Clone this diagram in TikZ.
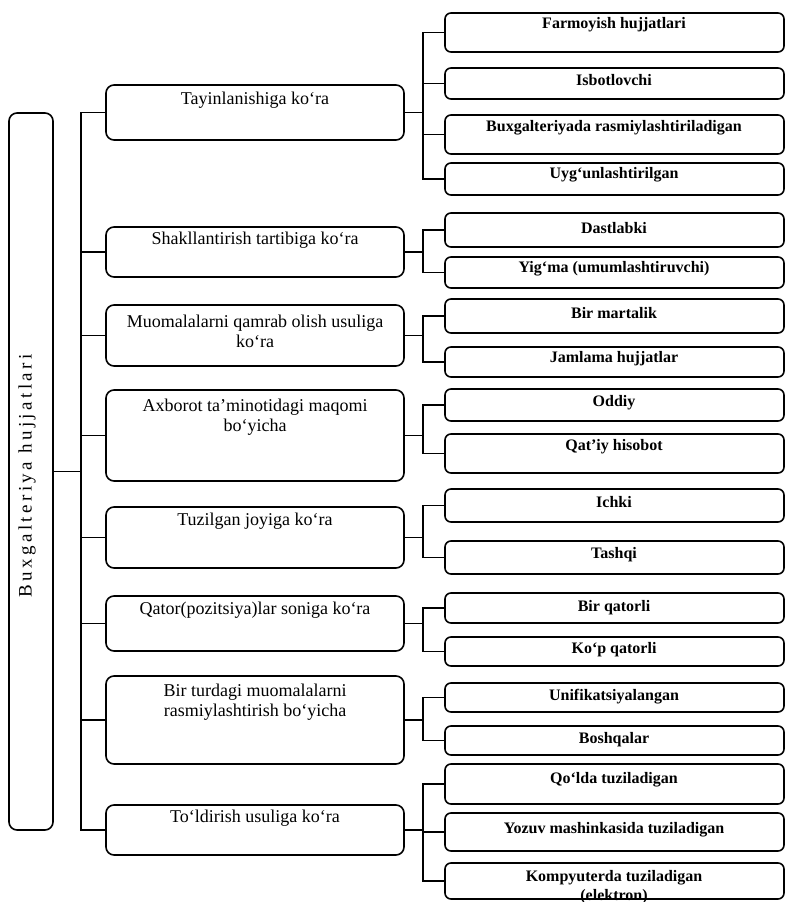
\documentclass[tikz,border=0pt]{standalone}
\usepackage{fontspec}
\setmainfont{Liberation Serif}
\newfontfamily\spacedfont[LetterSpace=18]{Liberation Serif}
\newcommand\bx[6]{%
  \node[#1, minimum width={#4-#3}, minimum height={#6-#5}] (#2) at ({(#3+#4)/2},{(#5+#6)/2}) {};}
\begin{document}
\begin{tikzpicture}[x=1pt,y=-1pt,
  midbox/.style={draw, line width=1.6pt, rounded corners=8pt, inner sep=0pt},
  rightbox/.style={draw, line width=1.6pt, rounded corners=6pt, inner sep=0pt},
  leftbox/.style={draw, line width=1.6pt, rounded corners=8pt, inner sep=0pt},
  midtxt/.style={align=center, inner sep=0pt, font=\fontsize{18}{20}\selectfont},
  righttxt/.style={align=center, inner sep=0pt, font=\bfseries\fontsize{16}{19}\selectfont},
  conn/.style={line width=1.6pt}]
\useasboundingbox (0,0) rectangle (787,902);
% left box
\bx{leftbox}{L}{9}{53}{113}{830}
\node[rotate=90, inner sep=0pt] (Lt) at (27,476) {\spacedfont\fontsize{19}{21}\selectfont Buxgalteriya hujjatlari};
% middle boxes
\bx{midbox}{m1}{106}{404}{85}{140}
\bx{midbox}{m2}{106}{404}{227}{277}
\bx{midbox}{m3}{106}{404}{305}{366}
\bx{midbox}{m4}{106}{404}{390}{481}
\bx{midbox}{m5}{106}{404}{507}{568}
\bx{midbox}{m6}{106}{404}{596}{651}
\bx{midbox}{m7}{106}{404}{676}{764}
\bx{midbox}{m8}{106}{404}{805}{855}
\node[midtxt] (m1t) at (255,100) {Tayinlanishiga ko‘ra};
\node[midtxt] (m2t) at (255,240) {Shakllantirish tartibiga ko‘ra};
\node[midtxt] (m3t) at (255,331) {Muomalalarni qamrab olish usuliga\\ko‘ra};
\node[midtxt] (m4t) at (255,417) {Axborot ta’minotidagi maqomi\\bo‘yicha};
\node[midtxt] (m5t) at (255,521) {Tuzilgan joyiga ko‘ra};
\node[midtxt] (m6t) at (255,610) {Qator(pozitsiya)lar soniga ko‘ra};
\node[midtxt] (m7t) at (255,702) {Bir turdagi muomalalarni\\rasmiylashtirish bo‘yicha};
\node[midtxt] (m8t) at (255,818) {To‘ldirish usuliga ko‘ra};
% right boxes
\bx{rightbox}{r11}{445}{784}{13}{52}
\bx{rightbox}{r12}{445}{784}{68}{99}
\bx{rightbox}{r13}{445}{784}{115}{154}
\bx{rightbox}{r14}{445}{784}{163}{195}
\bx{rightbox}{r21}{445}{784}{213}{247}
\bx{rightbox}{r22}{445}{784}{257}{288}
\bx{rightbox}{r31}{445}{784}{299}{333}
\bx{rightbox}{r32}{445}{784}{347}{377}
\bx{rightbox}{r41}{445}{784}{389}{421}
\bx{rightbox}{r42}{445}{784}{434}{473}
\bx{rightbox}{r51}{445}{784}{489}{522}
\bx{rightbox}{r52}{445}{784}{541}{574}
\bx{rightbox}{r61}{445}{784}{593}{623}
\bx{rightbox}{r62}{445}{784}{637}{666}
\bx{rightbox}{r71}{445}{784}{683}{712}
\bx{rightbox}{r72}{445}{784}{726}{755}
\bx{rightbox}{r81}{445}{784}{764}{804}
\bx{rightbox}{r82}{445}{784}{813}{851}
\bx{rightbox}{r83}{445}{784}{863}{899}
\node[righttxt] (r11t) at (614,25) {Farmoyish hujjatlari};
\node[righttxt] (r12t) at (614,80) {Isbotlovchi};
\node[righttxt] (r13t) at (614,128) {Buxgalteriyada rasmiylashtiriladigan};
\node[righttxt] (r14t) at (614,175) {Uyg‘unlashtirilgan};
\node[righttxt] (r21t) at (614,228) {Dastlabki};
\node[righttxt] (r22t) at (614,269) {Yig‘ma (umumlashtiruvchi)};
\node[righttxt] (r31t) at (614,313) {Bir martalik};
\node[righttxt] (r32t) at (614,359) {Jamlama hujjatlar};
\node[righttxt] (r41t) at (614,403) {Oddiy};
\node[righttxt] (r42t) at (614,447) {Qat’iy hisobot};
\node[righttxt] (r51t) at (614,502) {Ichki};
\node[righttxt] (r52t) at (614,555) {Tashqi};
\node[righttxt] (r61t) at (614,608) {Bir qatorli};
\node[righttxt] (r62t) at (614,650) {Ko‘p qatorli};
\node[righttxt] (r71t) at (614,697) {Unifikatsiyalangan};
\node[righttxt] (r72t) at (614,740) {Boshqalar};
\node[righttxt] (r81t) at (614,780) {Qo‘lda tuziladigan};
\node[righttxt] (r82t) at (614,830) {Yozuv mashinkasida tuziladigan};
\node[righttxt] (r83t) at (614,887) {Kompyuterda tuziladigan\\(elektron)};
% connectors
\coordinate (tr) at (81,0);
\coordinate (st) at (423,0);
\draw[conn] (L.east) -- (L.east -| tr);
\draw[conn] (m1.west) -- (m1.west -| tr) -- (m8.west -| tr) -- (m8.west);
\foreach \i in {2,...,7} \draw[conn] (m\i.west) -- (m\i.west -| tr);
\foreach \g/\first/\last/\mids in {1/1/4/{2,3}, 2/1/2/{}, 3/1/2/{}, 4/1/2/{}, 5/1/2/{}, 6/1/2/{}, 7/1/2/{}, 8/1/3/{2}}{
  \draw[conn] (m\g.east) -- (m\g.east -| st);
  \draw[conn] (r\g\first.west) -- (r\g\first.west -| st) -- (r\g\last.west -| st) -- (r\g\last.west);
  \foreach \j in \mids {\draw[conn] (r\g\j.west) -- (r\g\j.west -| st);}
}
\end{tikzpicture}
\end{document}
